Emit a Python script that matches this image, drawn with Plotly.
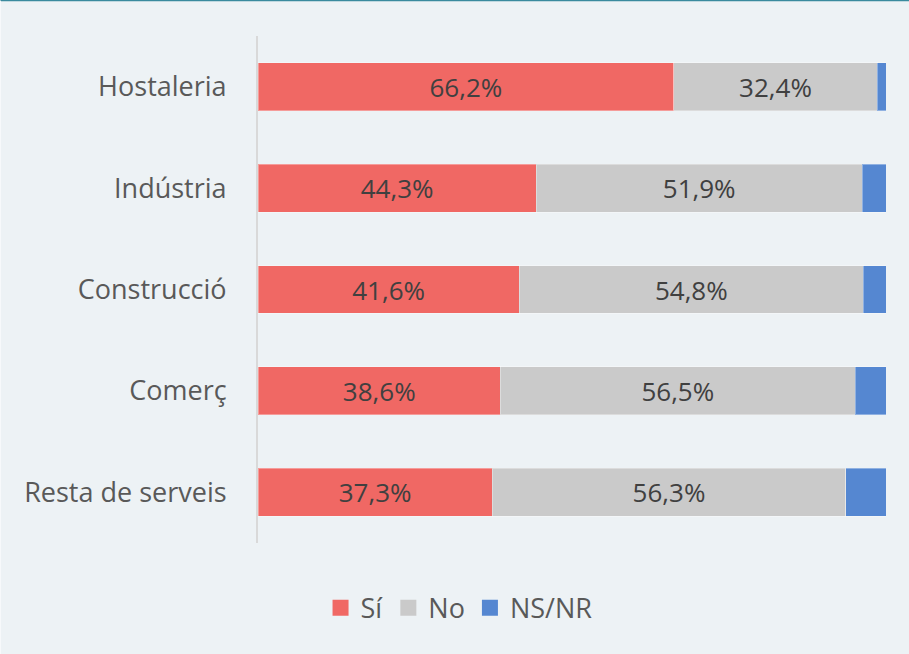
import plotly.graph_objects as go

categories = ["Hostaleria", "Indústria", "Construcció", "Comerç", "Resta de serveis"]
si = [66.2, 44.3, 41.6, 38.6, 37.3]
no = [32.4, 51.9, 54.8, 56.5, 56.3]
nsnr = [1.4, 3.8, 3.6, 4.9, 6.4]
series_names = ["Sí", "No", "NS/NR"]
colors = ["#f06864", "#cacaca", "#5587d1"]

def fmt(v):
    return f"{v:.1f}".replace(".", ",") + "%"

fig = go.Figure()
for name, vals, col, show in zip(series_names, [si, no, nsnr], colors, [True, True, False]):
    fig.add_trace(go.Bar(
        y=categories, x=vals, name=name, orientation="h",
        marker=dict(color=col, line=dict(color="rgba(255,255,255,0.35)", width=1)),
        text=[fmt(v) for v in vals] if show else None,
        textposition="inside" if show else "none",
        insidetextanchor="middle",
        textfont=dict(family="Open Sans", size=26, color="#404040"),
        hoverinfo="skip", showlegend=False,
    ))
# legend entries with larger square symbols
for name, col in zip(series_names, colors):
    fig.add_trace(go.Scatter(
        x=[None], y=[None], mode="markers", name=name,
        marker=dict(symbol="square", size=18, color=col),
        showlegend=True, hoverinfo="skip",
    ))

fig.update_layout(
    barmode="stack",
    width=909, height=654,
    margin=dict(l=258, r=23, t=36, b=111),
    paper_bgcolor="#edf2f5", plot_bgcolor="#edf2f5",
    bargap=0.527,
    font=dict(family="Open Sans", color="#595959"),
    xaxis=dict(range=[0, 100], visible=False, fixedrange=True),
    yaxis=dict(autorange="reversed", showgrid=False, showline=True,
               linecolor="#d9d9d9", linewidth=2, ticks="", ticklabelstandoff=24,
               tickfont=dict(family="Open Sans", size=27, color="#595959")),
    legend=dict(orientation="h", xref="container", yref="container",
                x=0.505, xanchor="center", y=0.07, yanchor="middle",
                font=dict(family="Open Sans", size=27, color="#595959"),
                traceorder="normal", itemsizing="trace", itemwidth=30),
    showlegend=True,
    shapes=[dict(type="line", xref="paper", yref="paper",
                 x0=-0.42, x1=1.05, y0=1.0705, y1=1.0705,
                 line=dict(color="#3a8a9e", width=2)),
            dict(type="line", xref="paper", yref="paper",
                 x0=-0.4100, x1=-0.4100, y0=-0.3, y1=1.07,
                 line=dict(color="#f7f9fb", width=1))],
)

fig.write_html("out.html", config={"displayModeBar": False},
               post_script="document.body.style.margin='0px';")
